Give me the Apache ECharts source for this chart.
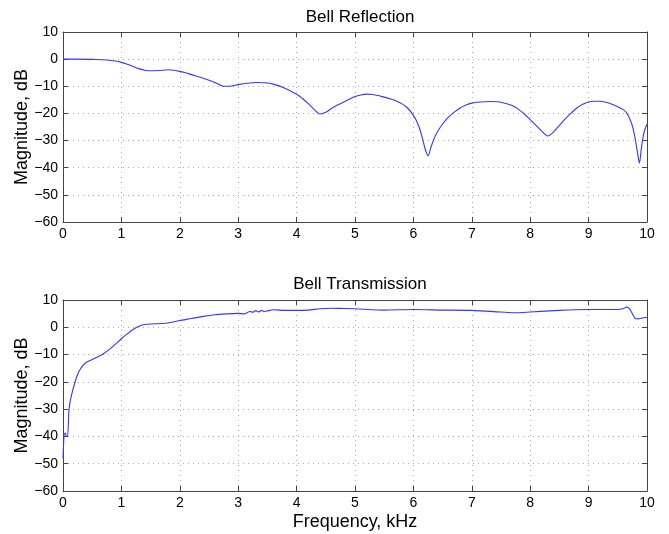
<!DOCTYPE html>
<html>
<head>
<meta charset="utf-8">
<script src="https://cdn.jsdelivr.net/npm/echarts@6/dist/echarts.min.js"></script>
<style>
  html, body { margin: 0; padding: 0; background: #fff; }
  #chart { width: 669px; height: 534px; }
</style>
</head>
<body>
<div id="chart"></div>
<script>
// x ticks (kHz) and y ticks (dB)
const xTicks = [0, 1, 2, 3, 4, 5, 6, 7, 8, 9, 10]
const yTicks = [-60, -50, -40, -30, -20, -10, 0, 10]

// Bell Reflection
const refFreq = [0, 0.25, 0.5, 0.75, 0.9, 1.0, 1.1, 1.2, 1.3, 1.4, 1.5, 1.65, 1.8, 1.9, 2.0, 2.1, 2.2, 2.35, 2.5, 2.65, 2.75, 2.85, 3.0, 3.15, 3.3, 3.45, 3.6, 3.8, 4.0, 4.1, 4.2, 4.3, 4.4, 4.5, 4.6, 4.7, 4.8, 4.9, 5.0, 5.1, 5.2, 5.3, 5.4, 5.5, 5.6, 5.7, 5.8, 5.9, 6.0, 6.05, 6.1, 6.15, 6.2, 6.25, 6.3, 6.35, 6.4, 6.5, 6.6, 6.7, 6.8, 6.9, 7.0, 7.15, 7.3, 7.45, 7.6, 7.7, 7.8, 7.9, 8.0, 8.1, 8.2, 8.3, 8.4, 8.5, 8.6, 8.7, 8.8, 8.9, 9.0, 9.1, 9.2, 9.3, 9.4, 9.5, 9.6, 9.65, 9.7, 9.75, 9.8, 9.84, 9.87, 9.9, 9.93, 9.96, 10]
const refDb = [0, 0, -0.1, -0.3, -0.7, -1.2, -1.9, -2.7, -3.5, -4.1, -4.3, -4.2, -3.9, -4.1, -4.5, -5.0, -5.7, -6.7, -7.8, -9.1, -10.0, -10.0, -9.4, -8.9, -8.6, -8.7, -9.2, -10.7, -12.9, -14.5, -16.4, -18.5, -20.2, -19.6, -18.1, -16.9, -15.9, -14.8, -13.8, -13.2, -12.9, -13.0, -13.4, -14.0, -14.6, -15.3, -16.4, -18.0, -20.7, -22.6, -25.2, -28.8, -33.0, -35.6, -32.5, -29.5, -27.2, -23.9, -21.4, -19.5, -18.0, -16.9, -16.2, -15.8, -15.6, -15.7, -16.4, -17.2, -18.5, -20.2, -22.3, -24.4, -26.6, -28.3, -26.8, -24.4, -22.0, -19.9, -18.0, -16.6, -15.8, -15.5, -15.5, -15.9, -16.6, -17.5, -18.7, -19.8, -21.8, -24.6, -29.6, -34.8, -38.3, -33.5, -29.0, -26.2, -24.0]

// Bell Transmission
const transFreq = [0, 0.02, 0.04, 0.06, 0.08, 0.1, 0.12, 0.15, 0.2, 0.25, 0.3, 0.35, 0.4, 0.5, 0.6, 0.7, 0.8, 0.9, 1.0, 1.1, 1.2, 1.3, 1.4, 1.5, 1.6, 1.7, 1.8, 1.9, 2.0, 2.2, 2.4, 2.6, 2.8, 3.0, 3.1, 3.2, 3.25, 3.3, 3.35, 3.4, 3.45, 3.5, 3.6, 3.8, 4.0, 4.2, 4.4, 4.6, 4.8, 5.0, 5.5, 6.0, 6.5, 7.0, 7.5, 7.75, 8.0, 8.5, 9.0, 9.5, 9.6, 9.65, 9.7, 9.75, 9.8, 9.85, 9.9, 10]
const transDb = [-48, -39.2, -38.8, -40, -40, -31, -27.5, -24.5, -20.5, -17.3, -15.2, -13.8, -12.8, -11.8, -10.8, -9.6, -8.0, -6.2, -4.2, -2.4, -0.8, 0.4, 1.0, 1.2, 1.3, 1.4, 1.6, 2.0, 2.5, 3.2, 4.0, 4.6, 4.9, 5.1, 4.9, 5.8, 5.5, 6.1, 5.6, 6.2, 5.8, 6.0, 6.4, 6.2, 6.2, 6.3, 6.8, 7.0, 6.9, 6.8, 6.3, 6.5, 6.3, 6.2, 5.6, 5.3, 5.6, 6.2, 6.5, 6.5, 6.9, 7.4, 6.8, 5.0, 3.2, 3.1, 3.3, 3.7]

const el = document.getElementById('chart')
const chart = echarts.init(el, null, { renderer: 'canvas' })

const FONT = 'Liberation Sans, Arial, Helvetica, sans-serif'
const AXIS_COLOR = '#444'

function pairs(xs, ys) {
  return xs.map((x, i) => [x, ys[i]])
}

function xAxisFor(gridIndex, withName) {
  return [
    {
      type: 'value',
      gridIndex: gridIndex,
      min: xTicks[0],
      max: xTicks[xTicks.length - 1],
      interval: 1,
      position: 'bottom',
      name: withName ? 'Frequency, kHz' : '',
      nameLocation: 'middle',
      nameGap: 22,
      nameMoveOverlap: false,
      nameTextStyle: { fontFamily: FONT, fontSize: 18, color: '#000', verticalAlign: 'top' },
      axisLine: { show: true, onZero: false, lineStyle: { color: AXIS_COLOR, width: 1 } },
      axisTick: { show: true, inside: true, length: 5, lineStyle: { color: AXIS_COLOR } },
      axisLabel: { fontFamily: FONT, fontSize: 14, color: '#000', margin: 5 },
      splitLine: { show: true, lineStyle: { color: '#aaa', type: [1, 4], width: 1 } }
    },
    {
      type: 'value',
      gridIndex: gridIndex,
      min: xTicks[0],
      max: xTicks[xTicks.length - 1],
      interval: 1,
      position: 'top',
      axisLine: { show: true, onZero: false, lineStyle: { color: AXIS_COLOR, width: 1 } },
      axisTick: { show: true, inside: true, length: 5, lineStyle: { color: AXIS_COLOR } },
      axisLabel: { show: false },
      splitLine: { show: false }
    }
  ]
}

function yAxisFor(gridIndex) {
  return [
    {
      type: 'value',
      gridIndex: gridIndex,
      min: yTicks[0],
      max: yTicks[yTicks.length - 1],
      interval: 10,
      position: 'left',
      name: 'Magnitude, dB',
      nameLocation: 'middle',
      nameGap: 32,
      nameMoveOverlap: false,
      nameTextStyle: { fontFamily: FONT, fontSize: 18, color: '#000' },
      axisLine: { show: true, onZero: false, lineStyle: { color: AXIS_COLOR, width: 1 } },
      axisTick: { show: true, inside: true, length: 5, lineStyle: { color: AXIS_COLOR } },
      axisLabel: {
        fontFamily: FONT, fontSize: 14, color: '#000', margin: 5,
        formatter: v => (v < 0 ? '\u2212' + Math.abs(v) : String(v))
      },
      splitLine: { show: true, lineStyle: { color: '#aaa', type: [1, 4], width: 1 } }
    },
    {
      type: 'value',
      gridIndex: gridIndex,
      min: yTicks[0],
      max: yTicks[yTicks.length - 1],
      interval: 10,
      position: 'right',
      axisLine: { show: true, onZero: false, lineStyle: { color: AXIS_COLOR, width: 1 } },
      axisTick: { show: true, inside: true, length: 5, lineStyle: { color: AXIS_COLOR } },
      axisLabel: { show: false },
      splitLine: { show: false }
    }
  ]
}

chart.setOption({
  animation: false,
  title: [
    {
      text: 'Bell Reflection',
      left: 355, top: 4, textAlign: 'center',
      textStyle: { fontFamily: FONT, fontSize: 17, fontWeight: 'normal', color: '#000' }
    },
    {
      text: 'Bell Transmission',
      left: 355, top: 271, textAlign: 'center',
      textStyle: { fontFamily: FONT, fontSize: 17, fontWeight: 'normal', color: '#000' }
    }
  ],
  grid: [
    { left: 63, right: 22, top: 32, height: 190, outerBoundsMode: 'none' },
    { left: 63, right: 22, top: 300, height: 191, outerBoundsMode: 'none' }
  ],
  xAxis: [...xAxisFor(0, false), ...xAxisFor(1, true)],
  yAxis: [...yAxisFor(0), ...yAxisFor(1)],
  series: [
    {
      name: 'Bell Reflection',
      type: 'line',
      xAxisIndex: 0,
      yAxisIndex: 0,
      data: pairs(refFreq, refDb),
      showSymbol: false,
      smooth: 0.3,
      lineStyle: { color: '#3535ff', width: 1.1 }
    },
    {
      name: 'Bell Transmission',
      type: 'line',
      xAxisIndex: 2,
      yAxisIndex: 2,
      data: pairs(transFreq, transDb),
      showSymbol: false,
      smooth: 0.2,
      lineStyle: { color: '#3535ff', width: 1.1 }
    }
  ]
})

window.addEventListener('resize', () => chart.resize())
</script>
</body>
</html>
